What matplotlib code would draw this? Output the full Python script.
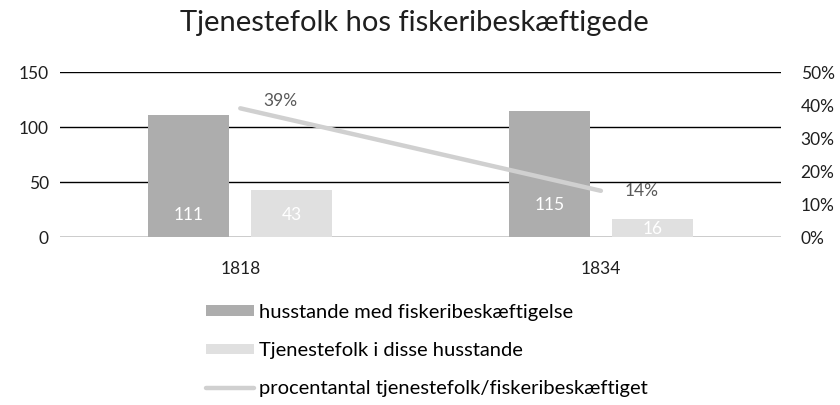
import matplotlib
matplotlib.use("Agg")
import matplotlib.pyplot as plt
import numpy as np

years = ["1818", "1834"]
husstande = [111, 115]
tjenestefolk = [43, 16]
procent = [0.39, 0.14]
series_names = ["husstande med fiskeribeskæftigelse",
                "Tjenestefolk i disse husstande",
                "procentantal tjenestefolk/fiskeribeskæftiget"]

DARK, LIGHT, LINE = "#ADADAD", "#E0E0E0", "#D0D0D0"

plt.rcParams.update({"font.family": ["Lato", "DejaVu Sans"], "font.size": 12})

fig = plt.figure(figsize=(8.4, 4.05), dpi=100)
ax = fig.add_axes([0.0714, 0.4148, 0.8586, 0.4074])
ax2 = ax.twinx()

x = np.arange(len(years))
w = 0.225; off = 0.143
b1 = ax.bar(x - off, husstande, w, color=DARK, label=series_names[0], zorder=2)
b2 = ax.bar(x + off, tjenestefolk, w, color=LIGHT, label=series_names[1], zorder=2)
ax.set_ylim(0, 150); ax.set_yticks([0, 50, 100, 150])
ax.set_xlim(-0.5, 1.5)
ax.set_xticks(x); ax.set_xticklabels(years)
ax.grid(axis="y", color="black", lw=1, zorder=0); ax.set_axisbelow(True)
for s in list(ax.spines.values()) + list(ax2.spines.values()):
    s.set_visible(False)
ax.tick_params(length=0, labelsize=12.5, colors="#1f1f1f", pad=8)
ax.tick_params(axis="x", pad=17)

# value labels near bar base (label heights in data units)
lbl_y1 = [20, 29]
lbl_y2 = [20, 7]
for xi, v, ly in zip(x - off, husstande, lbl_y1):
    ax.text(xi, ly, str(v), ha="center", va="center", color="white", fontsize=12.5)
for xi, v, ly in zip(x + off, tjenestefolk, lbl_y2):
    ax.text(xi, ly, str(v), ha="center", va="center", color="white", fontsize=12.5)

ln, = ax2.plot(x, procent, color=LINE, lw=3.2, solid_capstyle="round",
               label=series_names[2], zorder=3)
ax2.set_ylim(0, 0.5)
pct_ticks = np.arange(0, 0.51, 0.1)
ax2.set_yticks(pct_ticks)
ax2.set_yticklabels([f"{int(round(t * 100))}%" for t in pct_ticks])
ax2.tick_params(length=0, labelsize=12.5, colors="#1f1f1f", pad=14)
ax2.annotate(f"{procent[0]:.0%}", (x[0], procent[0]), textcoords="offset points",
             xytext=(29, 5), ha="center", va="center", color="#595959", fontsize=12.5)
ax2.annotate(f"{procent[1]:.0%}", (x[1], procent[1]), textcoords="offset points",
             xytext=(29, 0), ha="center", va="center", color="#595959", fontsize=12.5)

fig.text(0.493, 0.943, "Tjenestefolk hos fiskeribeskæftigede", ha="center", va="center",
         fontsize=21, color="#1f1f1f")

fig.legend(handles=[b1, b2, ln], loc="upper left", bbox_to_anchor=(0.245, 0.25),
           frameon=False, fontsize=14.5, handlelength=2.4, handleheight=0.4,
           handletextpad=0.25, labelspacing=1.05, borderaxespad=0, borderpad=0)

fig.savefig("out.png", dpi=100)
